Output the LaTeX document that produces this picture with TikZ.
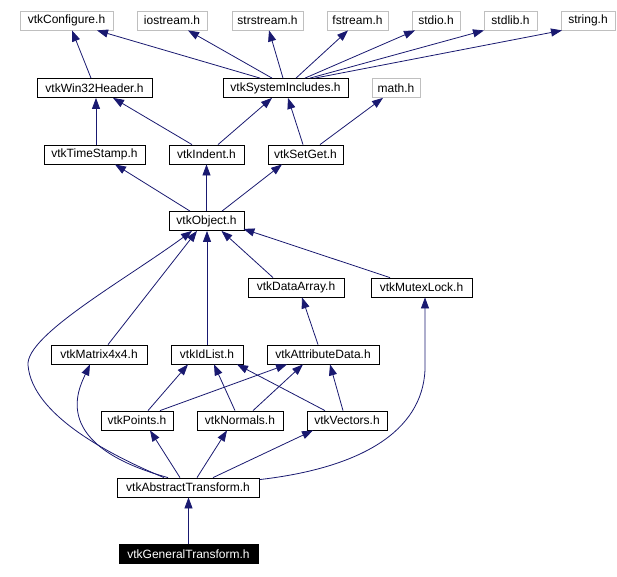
\documentclass[tikz,border=0pt]{standalone}
\usepackage{fontspec}
\setmainfont{Liberation Sans}
\usetikzlibrary{arrows.meta}
\definecolor{navyblue}{HTML}{191970}

\begin{document}
\begin{tikzpicture}[x=1pt, y=-1pt,
    hdr/.style={draw=black, line width=0.8pt, inner sep=0pt, minimum height=19pt, font=\fontsize{12}{14}\selectfont},
    syshdr/.style={hdr, draw=black!25},
    focus/.style={hdr, fill=black, text=white},
    dep/.style={draw=navyblue, line width=0.8pt, -{Triangle[length=11pt, width=8pt]}}]
    \useasboundingbox (0,0) rectangle (617,576);

    % Ряд 1: системные заголовки
    \node[syshdr, minimum width=93pt] (configure) at (66.5, 20.5) {vtkConfigure.h};
    \node[syshdr, minimum width=70pt] (iostream) at (172, 20.5) {iostream.h};
    \node[syshdr, minimum width=71pt] (strstream) at (267.5, 20.5) {strstream.h};
    \node[syshdr, minimum width=61pt] (fstream) at (357.5, 20.5) {fstream.h};
    \node[syshdr, minimum width=48pt] (stdio) at (436, 20.5) {stdio.h};
    \node[syshdr, minimum width=53pt] (stdlib) at (510.5, 20.5) {stdlib.h};
    \node[syshdr, minimum width=54pt] (string) at (588, 20.5) {string.h};

    % Ряд 2
    \node[hdr, minimum width=115pt] (win32) at (94.5, 88) {vtkWin32Header.h};
    \node[hdr, minimum width=125pt] (sysinc) at (285.5, 88) {vtkSystemIncludes.h};
    \node[syshdr, minimum width=48pt] (math) at (396, 88) {math.h};

    % Ряд 3
    \node[hdr, minimum width=101pt] (tstamp) at (94.5, 154.5) {vtkTimeStamp.h};
    \node[hdr, minimum width=75pt] (indent) at (206.5, 154.5) {vtkIndent.h};
    \node[hdr, minimum width=75pt] (setget) at (305.5, 154.5) {vtkSetGet.h};

    % Ряд 4
    \node[hdr, minimum width=75pt] (object) at (206.5, 221) {vtkObject.h};

    % Ряд 5
    \node[hdr, minimum width=96pt] (dataarray) at (296, 287.5) {vtkDataArray.h};
    \node[hdr, minimum width=101pt] (mutex) at (421.5, 287.5) {vtkMutexLock.h};

    % Ряд 6
    \node[hdr, minimum width=96pt] (matrix) at (99, 354.5) {vtkMatrix4x4.h};
    \node[hdr, minimum width=72pt] (idlist) at (207, 354.5) {vtkIdList.h};
    \node[hdr, minimum width=112pt] (attrdata) at (323, 354.5) {vtkAttributeData.h};

    % Ряд 7
    \node[hdr, minimum width=72pt] (points) at (137, 420.5) {vtkPoints.h};
    \node[hdr, minimum width=86pt] (normals) at (240, 420.5) {vtkNormals.h};
    \node[hdr, minimum width=80pt] (vectors) at (347, 420.5) {vtkVectors.h};

    % Ряд 8 и 9
    \node[hdr, minimum width=142pt] (abstract) at (188, 487.5) {vtkAbstractTransform.h};
    \node[focus, minimum width=139pt] (general) at (188.5, 554) {vtkGeneralTransform.h};

    % Связи к ряду 1
    \draw[dep] ([xshift=-3.5pt]win32.north) -- ([xshift=5.5pt]configure.south);
    \draw[dep] ([xshift=-25.5pt]sysinc.north) -- ([xshift=30.5pt]configure.south);
    \draw[dep] ([xshift=-13.5pt]sysinc.north) -- ([xshift=16pt]iostream.south);
    \draw[dep] ([xshift=-2.5pt]sysinc.north) -- ([xshift=1.5pt]strstream.south);
    \draw[dep] ([xshift=10.5pt]sysinc.north) -- ([xshift=-9.5pt]fstream.south);
    \draw[dep] ([xshift=19.5pt]sysinc.north) -- ([xshift=-21pt]stdio.south);
    \draw[dep] ([xshift=24.5pt]sysinc.north) -- ([xshift=-26.5pt]stdlib.south);
    \draw[dep] ([xshift=29.5pt]sysinc.north) -- ([xshift=-26pt]string.south);

    % Связи к ряду 2
    \draw[dep] ([xshift=1.5pt]tstamp.north) -- ([xshift=1.5pt]win32.south);
    \draw[dep] ([xshift=-14.5pt]indent.north) -- ([xshift=18.5pt]win32.south);
    \draw[dep] ([xshift=11.5pt]indent.north) -- ([xshift=-13.5pt]sysinc.south);
    \draw[dep] ([xshift=-2.5pt]setget.north) -- ([xshift=2.5pt]sysinc.south);
    \draw[dep] ([xshift=14.5pt]setget.north) -- ([xshift=-13pt]math.south);

    % Связи к ряду 3
    \draw[dep] ([xshift=-16.5pt]object.north) -- ([xshift=20.5pt]tstamp.south);
    \draw[dep] (object.north) -- (indent.south);
    \draw[dep] ([xshift=15.5pt]object.north) -- ([xshift=-23.5pt]setget.south);

    % Связи к vtkObject.h
    \draw[dep] ([xshift=-23pt]dataarray.north) -- ([xshift=15pt]object.south);
    \draw[dep] ([xshift=-31.5pt]mutex.north) -- ([xshift=-1pt, yshift=2pt]object.south east);
    \draw[dep] ([xshift=9pt]matrix.north) -- ([xshift=-9.5pt]object.south);
    \draw[dep] (idlist.north) -- ([xshift=0.5pt]object.south);

    % Связи к рядам 5 и 6
    \draw[dep] ([xshift=-5pt]attrdata.north) -- ([xshift=6pt]dataarray.south);
    \draw[dep] ([xshift=11pt]points.north) -- ([xshift=-19pt]idlist.south);
    \draw[dep] ([xshift=23pt]points.north) -- ([xshift=-36pt]attrdata.south);
    \draw[dep] ([xshift=-5pt]normals.north) -- ([xshift=7pt]idlist.south);
    \draw[dep] ([xshift=13pt]normals.north) -- ([xshift=-20pt]attrdata.south);
    \draw[dep] ([xshift=-22pt]vectors.north) -- ([xshift=30pt]idlist.south);
    \draw[dep] ([xshift=-4pt]vectors.north) -- ([xshift=7pt]attrdata.south);

    % Связи от vtkAbstractTransform.h
    \draw[dep] ([xshift=-8pt]abstract.north) -- ([xshift=13pt]points.south);
    \draw[dep] ([xshift=9pt]abstract.north) -- ([xshift=-13pt]normals.south);
    \draw[dep] ([xshift=25pt]abstract.north) -- ([xshift=-34pt]vectors.south);
    \draw[dep] ([xshift=-20pt]abstract.north) .. controls (50, 445) and (78, 390) .. ([xshift=-9pt]matrix.south);
    \draw[dep] ([xshift=-24pt]abstract.north) .. controls (110, 455) and (32, 415) .. (28, 365)
        .. controls (26, 335) and (125, 280) .. ([xshift=-14.5pt]object.south);
    \draw[dep] ([yshift=-2pt]abstract.north east) .. controls (360, 468) and (422, 432) .. (425, 370)
        -- ([xshift=3.5pt]mutex.south);

    % Связь к ряду 8
    \draw[dep] (general.north) -- ([xshift=0.5pt]abstract.south);

\end{tikzpicture}
\end{document}
